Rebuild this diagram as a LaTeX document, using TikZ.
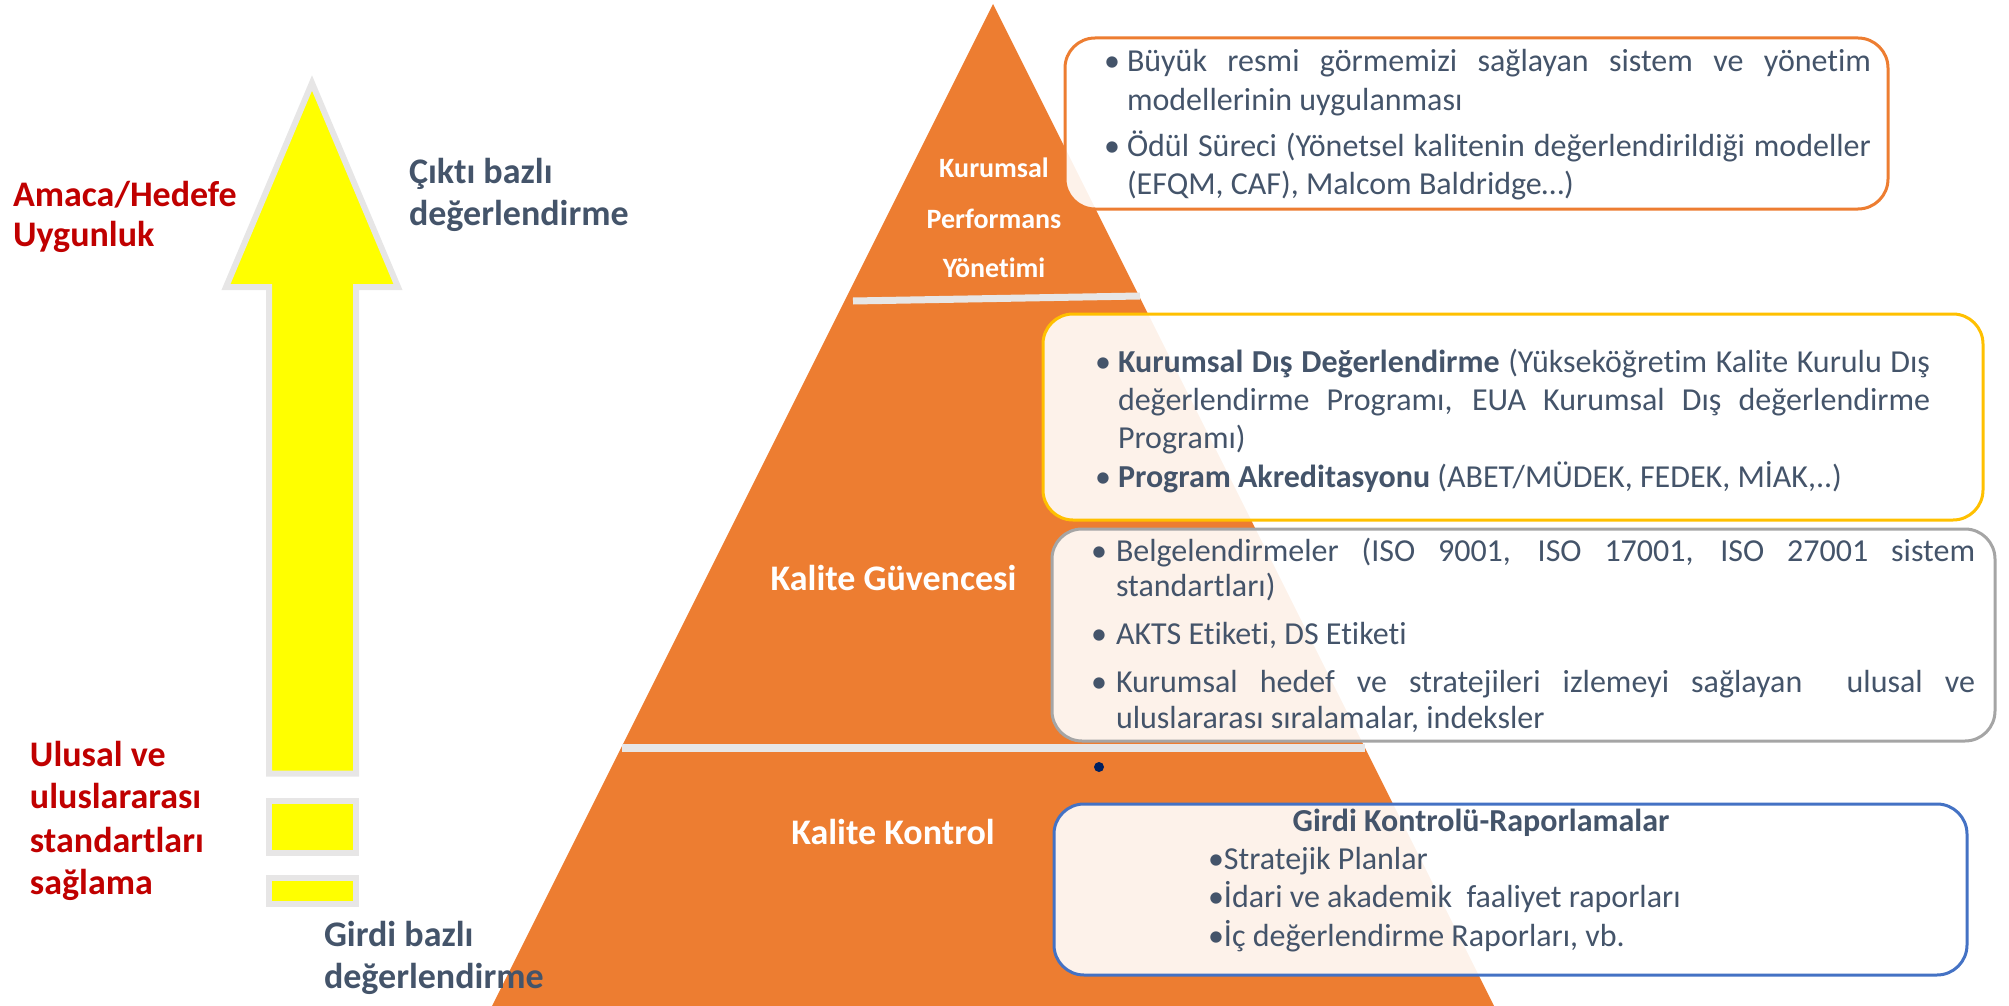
\documentclass[tikz,border=0pt]{standalone}
\usepackage{fontspec}
\setmainfont{Carlito}[Ligatures=NoCommon]
\definecolor{pyrorange}{HTML}{ED7D31}
\definecolor{slate}{HTML}{44546A}
\definecolor{redc}{HTML}{C00000}
\definecolor{lgray}{HTML}{E7E6E6}
\definecolor{yel}{HTML}{FFFF00}
\definecolor{gold}{HTML}{FFC000}
\definecolor{midgray}{HTML}{A5A5A5}
\definecolor{blueb}{HTML}{4472C4}
\definecolor{navy}{HTML}{002060}
\begin{document}
\begin{tikzpicture}[x=0.5pt,y=-0.5pt,
  body/.style={anchor=base west, inner sep=0pt, outer sep=0pt, text=slate, font=\fontsize{16}{19}\selectfont},
  bul/.style={anchor=base, inner sep=0pt, outer sep=0pt, text=slate, font=\fontsize{16}{19}\selectfont},
  biglabel/.style={anchor=base west, inner sep=0pt, outer sep=0pt, font=\fontsize{18}{22}\selectfont\bfseries},
  pyrsmall/.style={anchor=base, inner sep=0pt, outer sep=0pt, text=white, font=\fontsize{14}{17}\selectfont\bfseries},
  pyrbig/.style={anchor=base, inner sep=0pt, outer sep=0pt, text=white, font=\fontsize{18}{22}\selectfont\bfseries},
  infobox/.style={draw, rectangle, rounded corners=15pt, line width=1.5pt, fill=white, fill opacity=0.9, inner sep=0pt, outer sep=0pt},
  yelshape/.style={fill=yel, draw=lgray, line width=3pt, miter limit=20},
  sepline/.style={draw=lgray, line cap=butt}
]
\useasboundingbox (0,0) rectangle (2009,1006);

% pyramid
\fill[pyrorange] (993,4) -- (1494,1006) -- (492,1006) -- cycle;
\draw[sepline, line width=3.5pt] (853,301) -- (1140,296);
\draw[sepline, line width=4pt] (622,747.5) -- (1365,747.5);

% pyramid labels
\node[pyrsmall] (kur) at (994,177) {Kurumsal};
\node[pyrsmall] (perf) at (994,228) {Performans};
\node[pyrsmall] (yon) at (994,278) {Yönetimi};
\node[pyrbig] (kg) at (893.5,590) {Kalite Güvencesi};
\node[pyrbig] (kk) at (893,844) {Kalite Kontrol};

% yellow arrow and bars
\draw[yelshape] (312,83) -- (398,287) -- (356,287) -- (356,773.5) -- (269,773.5) -- (269,287) -- (226,287) -- cycle;
\draw[yelshape] (269,800.5) rectangle (356,852.5);
\draw[yelshape] (269,877.5) rectangle (356,903.5);

% left labels
\node[biglabel, text=redc] (amaca) at (13,206) {Amaca/Hedefe};
\node[biglabel, text=redc] (uygun) at (13,246) {Uygunluk};
\node[biglabel, text=redc] (ul1) at (30,766) {Ulusal ve};
\node[biglabel, text=redc] (ul2) at (30,808) {uluslararası};
\node[biglabel, text=redc] (ul3) at (30,852) {standartları};
\node[biglabel, text=redc] (ul4) at (30,894) {sağlama};
\node[biglabel, text=slate] (cikti1) at (409,184) {Çıktı bazlı};
\node[biglabel, text=slate] (cikti2) at (409,226) {değerlendirme};
\node[biglabel, text=slate] (girdi1) at (324,946) {Girdi bazlı};
\node[biglabel, text=slate] (girdi2) at (324,988) {değerlendirme};

% boxes
\node[infobox, draw=pyrorange, minimum width=411.5pt, minimum height=85.5pt] (box1) at (1476.5,123.5) {};
\node[infobox, draw=gold, minimum width=470pt, minimum height=103pt] (box2) at (1513,417) {};
\node[infobox, draw=midgray, minimum width=471.5pt, minimum height=106pt] (box3) at (1523.5,635) {};
\node[infobox, draw=blueb, minimum width=456.5pt, minimum height=85.5pt] (box4) at (1510.5,889.5) {};

% box 1 text
\node[bul] (b1a) at (1112,72) {•};
\node[body] (t1a) at (1127,72) {\makebox[372pt][s]{Büyük resmi görmemizi sağlayan sistem ve yönetim}};
\node[body] (t1b) at (1127,111) {modellerinin uygulanması};
\node[bul] (b1b) at (1112,156) {•};
\node[body] (t1c) at (1127,156) {\makebox[372pt][s]{Ödül Süreci (Yönetsel kalitenin değerlendirildiği modeller}};
\node[body] (t1d) at (1127,195) {(EFQM, CAF), Malcom Baldridge…)};

% box 2 text
\node[bul] (b2a) at (1103,372) {•};
\node[body] (t2a) at (1118,372) {\makebox[406pt][s]{\textbf{Kurumsal Dış Değerlendirme} (Yükseköğretim Kalite Kurulu Dış}};
\node[body] (t2b) at (1118,410) {\makebox[406pt][s]{değerlendirme Programı, EUA Kurumsal Dış değerlendirme}};
\node[body] (t2c) at (1118,448) {Programı)};
\node[bul] (b2b) at (1103,487) {•};
\node[body] (t2d) at (1118,487) {\textbf{Program Akreditasyonu} (ABET/MÜDEK, FEDEK, MİAK,..)};

% box 3 text
\node[bul] (b3a) at (1099,561) {•};
\node[body] (t3a) at (1116,561) {\makebox[429.5pt][s]{Belgelendirmeler (ISO 9001, ISO 17001, ISO 27001 sistem}};
\node[body] (t3b) at (1116,596) {standartları)};
\node[bul] (b3b) at (1099,644) {•};
\node[body] (t3c) at (1116,644) {AKTS Etiketi, DS Etiketi};
\node[bul] (b3c) at (1099,692) {•};
\node[body] (t3d) at (1116,692) {\makebox[429.5pt][s]{Kurumsal hedef ve stratejileri izlemeyi sağlayan\ \ ulusal ve}};
\node[body] (t3e) at (1116,728) {uluslararası sıralamalar, indeksler};

% lone bullet
\node[circle, fill=navy, inner sep=0pt, minimum size=5pt] (dot) at (1099,767) {};

% box 4 text
\node[anchor=base, inner sep=0pt, text=slate, font=\fontsize{16}{19}\selectfont\bfseries] (t4t) at (1481,831) {Girdi Kontrolü-Raporlamalar};
\node[body] (t4a) at (1208,869) {•Stratejik Planlar};
\node[body] (t4b) at (1208,907) {•İdari ve akademik\ \ faaliyet raporları};
\node[body] (t4c) at (1208,946) {•İç değerlendirme Raporları, vb.};
\end{tikzpicture}
\end{document}
